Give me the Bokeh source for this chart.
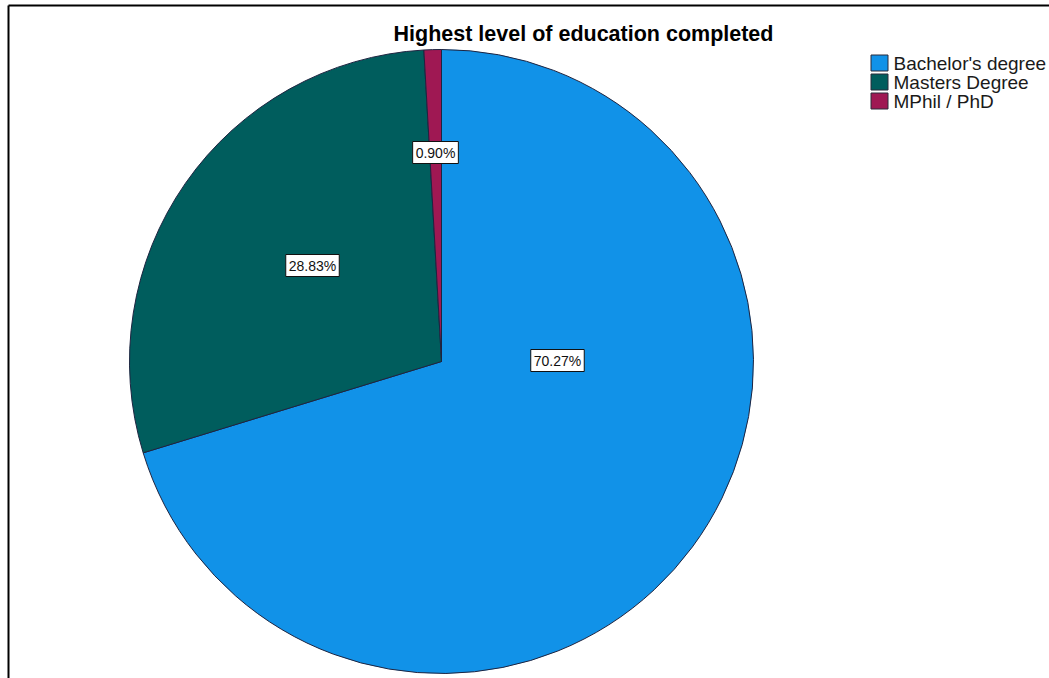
import numpy as np
from bokeh.plotting import figure
from bokeh.models import Range1d, ColumnDataSource
from bokeh.core.properties import value
from bokeh.embed import file_html
from bokeh.resources import INLINE

# ---- data ----
categories = ["Bachelor's degree", "Masters Degree", "MPhil / PhD"]
percents = [70.27, 28.83, 0.90]
labels = ["70.27%", "28.83%", "0.90%"]
colors = ["#1192e8", "#005d5d", "#9f1853"]
title_text = "Highest level of education completed"

# ---- layout (pixel-like coordinates, y measured from the bottom) ----
W, H = 1049, 678
cx, cy, R = 441, H - 361, 312
# label offsets relative to pie centre
label_dx = [116, -129, -6]
label_dy = [1, 96, 209]

p = figure(width=W, height=H, x_range=Range1d(0, W), y_range=Range1d(0, H),
           output_backend="svg", toolbar_location=None, min_border=0,
           background_fill_color="white", border_fill_color="white")
p.axis.visible = False
p.grid.visible = False
p.outline_line_color = None

# pie wedges: start at 12 o'clock, clockwise
fr = np.array(percents) / sum(percents)
cum = np.concatenate([[0], np.cumsum(fr)])
start = np.pi / 2 - 2 * np.pi * cum[:-1]
end = np.pi / 2 - 2 * np.pi * cum[1:]
src = ColumnDataSource(dict(x=[cx] * 3, y=[cy] * 3, start=start, end=end,
                            color=colors, cat=categories))
p.wedge(x="x", y="y", radius=R, start_angle="start", end_angle="end",
        direction="clock", fill_color="color", line_color="#1e2440",
        line_width=1, source=src)

# percentage labels
lsrc = ColumnDataSource(dict(x=[cx + d for d in label_dx],
                             y=[cy + d for d in label_dy], text=labels))
p.text(x="x", y="y", text="text", source=lsrc,
       text_align="center", text_baseline="middle",
       text_font=value("Liberation Sans"), text_font_size="14px",
       text_color="#111111", background_fill_color="white",
       border_line_color="#111111", border_line_width=1, padding=3)

# title
p.text(x=[583], y=[H - 33], text=[title_text], text_font=value("Liberation Sans"),
       text_font_style="bold", text_font_size="21.5px", text_align="center",
       text_baseline="middle", text_color="black")

# legend (drawn manually)
ly = [H - 62.5, H - 81.5, H - 100.5]
p.rect(x=[879] * 3, y=ly, width=17, height=16, width_units="screen",
       height_units="screen", fill_color=colors, line_color="#2a2a3a",
       line_width=1)
p.text(x=[893] * 3, y=ly, text=categories, text_font=value("Liberation Sans"),
       text_font_size="19px", text_align="left", text_baseline="middle",
       text_color="#1a1a1a")

# frame lines (top & left)
p.segment(x0=[8, 8], y0=[H - 5, H - 5], x1=[W, 8], y1=[H - 5, 0],
          line_color="black", line_width=2)

open("out.html", "w").write(file_html(p, INLINE))
